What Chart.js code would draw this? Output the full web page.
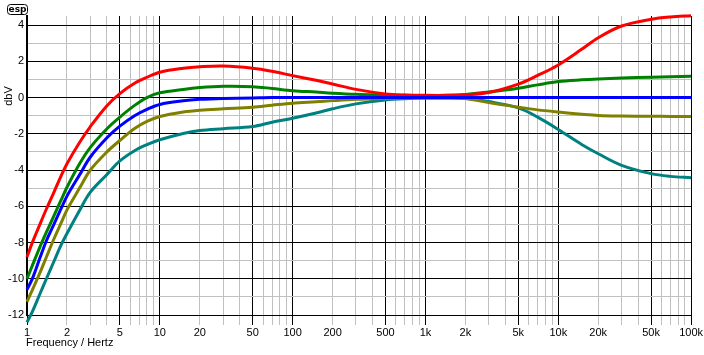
<!DOCTYPE html>
<html><head><meta charset="utf-8">
<script src="https://cdn.jsdelivr.net/npm/chart.js@4.4.1/dist/chart.umd.min.js"></script>
<style>html,body{margin:0;padding:0;background:#fff}#wrap{width:704px;height:355px;position:relative}</style>
</head><body>
<div id="wrap"><canvas id="c"></canvas></div>
<script>
const freqs = [1, 1.1, 1.25, 1.4, 1.6, 1.8, 2, 2.5, 3, 4, 5, 6.5, 8, 10, 15, 20, 30, 50, 70, 100, 150, 200, 300, 500, 700, 1000, 1500, 2000, 3000, 5000, 7000, 10000, 15000, 20000, 30000, 50000, 70000, 100000];
const redDb = [-8.8, -7.98, -7.0, -6.15, -5.2, -4.35, -3.65, -2.45, -1.6, -0.45, 0.22, 0.8, 1.12, 1.4, 1.62, 1.70, 1.74, 1.62, 1.45, 1.21, 0.95, 0.75, 0.45, 0.2, 0.14, 0.12, 0.12, 0.15, 0.28, 0.74, 1.22, 1.8, 2.66, 3.3, 3.95, 4.32, 4.45, 4.52];
const greenDb = [-10, -9.25, -8.25, -7.43, -6.5, -5.68, -4.95, -3.63, -2.75, -1.72, -1.08, -0.42, 0.0, 0.26, 0.45, 0.55, 0.62, 0.6, 0.5, 0.38, 0.3, 0.24, 0.18, 0.14, 0.12, 0.1, 0.12, 0.17, 0.3, 0.51, 0.7, 0.88, 0.98, 1.03, 1.08, 1.12, 1.15, 1.17];
const blueDb = [-10.6, -9.98, -8.86, -7.9, -6.97, -6.15, -5.44, -4.24, -3.28, -2.22, -1.58, -0.99, -0.65, -0.38, -0.18, -0.1, -0.05, -0.02, 0, 0, 0, 0, 0, 0, 0, 0, 0, 0, 0, 0, 0, 0, 0, 0, 0, 0, 0, 0];
const oliveDb = [-11.27, -10.6, -9.68, -8.8, -7.78, -6.95, -6.2, -4.97, -4.0, -3.0, -2.37, -1.7, -1.32, -1.05, -0.8, -0.7, -0.62, -0.53, -0.42, -0.31, -0.23, -0.17, -0.1, -0.05, -0.03, -0.02, -0.03, -0.05, -0.28, -0.53, -0.68, -0.8, -0.92, -0.99, -1.02, -1.03, -1.04, -1.04];
const tealDb = [-12.4, -11.8, -10.84, -10, -9.02, -8.16, -7.5, -6.2, -5.22, -4.25, -3.5, -2.92, -2.6, -2.33, -1.98, -1.82, -1.72, -1.6, -1.36, -1.14, -0.85, -0.62, -0.35, -0.13, -0.06, -0.03, -0.02, -0.05, -0.22, -0.57, -1.08, -1.76, -2.59, -3.1, -3.74, -4.2, -4.35, -4.42];

const xTickValues = [1,2,3,4,5,6,7,8,9,10,20,30,40,50,60,70,80,90,100,200,300,400,500,600,700,800,900,1000,2000,3000,4000,5000,6000,7000,8000,9000,10000,20000,30000,40000,50000,60000,70000,80000,90000,100000];
const xLabels = {1:"1",2:"2",5:"5",10:"10",20:"20",50:"50",100:"100",200:"200",500:"500",1000:"1k",2000:"2k",5000:"5k",10000:"10k",20000:"20k",50000:"50k",100000:"100k"};
const yTickValues = [-12,-11,-10,-9,-8,-7,-6,-5,-4,-3,-2,-1,0,1,2,3,4];
const xTitle = "Frequency / Hertz";
const yTitle = "dbV";

function pts(arr){ return freqs.map((f,i)=>({x:f,y:arr[i]})); }
function mant(v){ const e=Math.floor(Math.log10(v)+1e-9); return Math.round(v/Math.pow(10,e)); }

const ds = (label, arr, color) => ({label, data: pts(arr), borderColor: color, backgroundColor: color, borderWidth: 3, pointRadius: 0, tension: 0.35, clip: false, fill: false});

const extras = {
  id: 'extras',
  afterDraw(chart){
    const ctx = chart.ctx;
    ctx.save();
    ctx.fillStyle = '#000';
    ctx.font = '11px "Liberation Sans", Arial, sans-serif';
    ctx.textBaseline = 'middle';
    ctx.textAlign = 'left';
    ctx.fillText(xTitle, 26, 343);
    ctx.save();
    ctx.translate(9, 96);
    ctx.rotate(-Math.PI/2);
    ctx.textAlign = 'center';
    ctx.fillText(yTitle, 0, 0);
    ctx.restore();
    ctx.strokeStyle = '#000';
    ctx.lineWidth = 1;
    ctx.beginPath();
    ctx.roundRect(7.5, 4.5, 20, 10, 3);
    ctx.stroke();
    ctx.font = 'bold 9px "DejaVu Sans", sans-serif';
    ctx.textAlign = 'center';
    ctx.fillText('esp', 17.5, 9.5);
    ctx.restore();
  }
};

new Chart(document.getElementById('c'), {
  type: 'line',
  data: {
    datasets: [
      ds('blue', blueDb, '#0000ff'),
      ds('red', redDb, '#ff0000'),
      ds('green', greenDb, '#008000'),
      ds('olive', oliveDb, '#808000'),
      ds('teal', tealDb, '#008080')
    ]
  },
  options: {
    responsive: true,
    maintainAspectRatio: false,
    animation: false,
    layout: { padding: { left: 0, right: 11, top: 16, bottom: 0 } },
    plugins: { legend: { display: false }, tooltip: { enabled: false } },
    scales: {
      x: {
        type: 'logarithmic',
        min: 1, max: 100000,
        afterBuildTicks: s => { s.ticks = xTickValues.map(v => ({value: v})); },
        afterFit: s => { s.height = 40; },
        ticks: {
          autoSkip: false, maxRotation: 0, minRotation: 0, padding: 1,
          color: '#000',
          font: { family: '"Liberation Sans", Arial, sans-serif', size: 11 },
          callback: v => xLabels[v] || ''
        },
        grid: {
          drawTicks: true, tickLength: 10,
          color: c => { const v = c.tick && c.tick.value; if (!v) return '#c0c0c0'; const m = mant(v); return (m===1||m===5) ? '#000' : '#c0c0c0'; },
          lineWidth: 1
        },
        border: { display: true, color: '#000', width: 1 }
      },
      y: {
        type: 'linear',
        min: -12, max: 4.5,
        afterBuildTicks: s => { s.ticks = yTickValues.map(v => ({value: v})); },
        afterFit: s => { s.width = 27; },
        ticks: {
          padding: 3, color: '#000',
          font: { family: '"Liberation Sans", Arial, sans-serif', size: 11 },
          callback: v => (v % 2 === 0) ? String(v) : ''
        },
        grid: {
          drawTicks: false,
          color: c => { const v = c.tick && c.tick.value; return (v % 2 === 0) ? '#000' : '#c0c0c0'; },
          lineWidth: 1
        },
        border: { display: true, color: '#000', width: 2 }
      }
    }
  },
  plugins: [extras]
});
</script>
</body></html>
